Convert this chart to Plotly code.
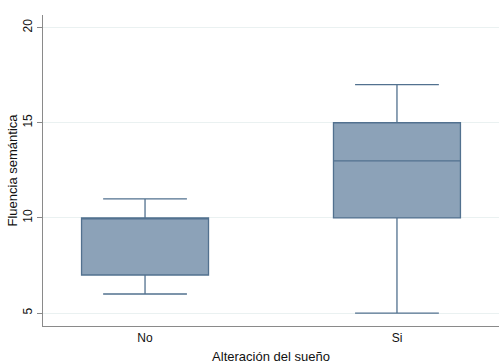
import plotly.graph_objects as go

categories = ["No", "Si"]
q1 = [7, 10]
median = [10, 13]
q3 = [10, 15]
lowerfence = [6, 5]
upperfence = [11, 17]
y_ticks = [5, 10, 15, 20]

fig = go.Figure()
fig.add_trace(go.Box(
    x=[0, 1], q1=q1, median=median, q3=q3,
    lowerfence=lowerfence, upperfence=upperfence,
    fillcolor="#8CA2B8", line=dict(color="#52718F", width=1.3),
    width=0.504, whiskerwidth=0.66, boxpoints=False, showlegend=False,
    hoverinfo="skip",
))

fig.update_layout(
    width=500, height=364,
    margin=dict(l=43, r=1, t=15, b=38),
    plot_bgcolor="white", paper_bgcolor="white",
    font=dict(family="Liberation Sans, Arial, sans-serif", color="#111", size=12),
)
fig.update_xaxes(
    range=[-0.405, 1.405], tickvals=[0, 1], ticktext=categories,
    showline=True, linecolor="#8a8a8a", linewidth=1.3,
    ticks="", showgrid=False, zeroline=False,
    title=dict(text="Alteración del sueño", standoff=8, font=dict(size=13)),
)
fig.update_yaxes(
    range=[4.32, 20.66], tickvals=y_ticks, tickangle=-90,
    showline=True, linecolor="#8a8a8a", linewidth=1.3,
    ticks="outside", ticklen=5, tickcolor="#8a8a8a",
    showgrid=True, gridcolor="#EAF1F1", gridwidth=1, zeroline=False,
    title=dict(text="Fluencia semántica", standoff=0, font=dict(size=13)),
    automargin=False,
)
fig.write_html("out.html")
